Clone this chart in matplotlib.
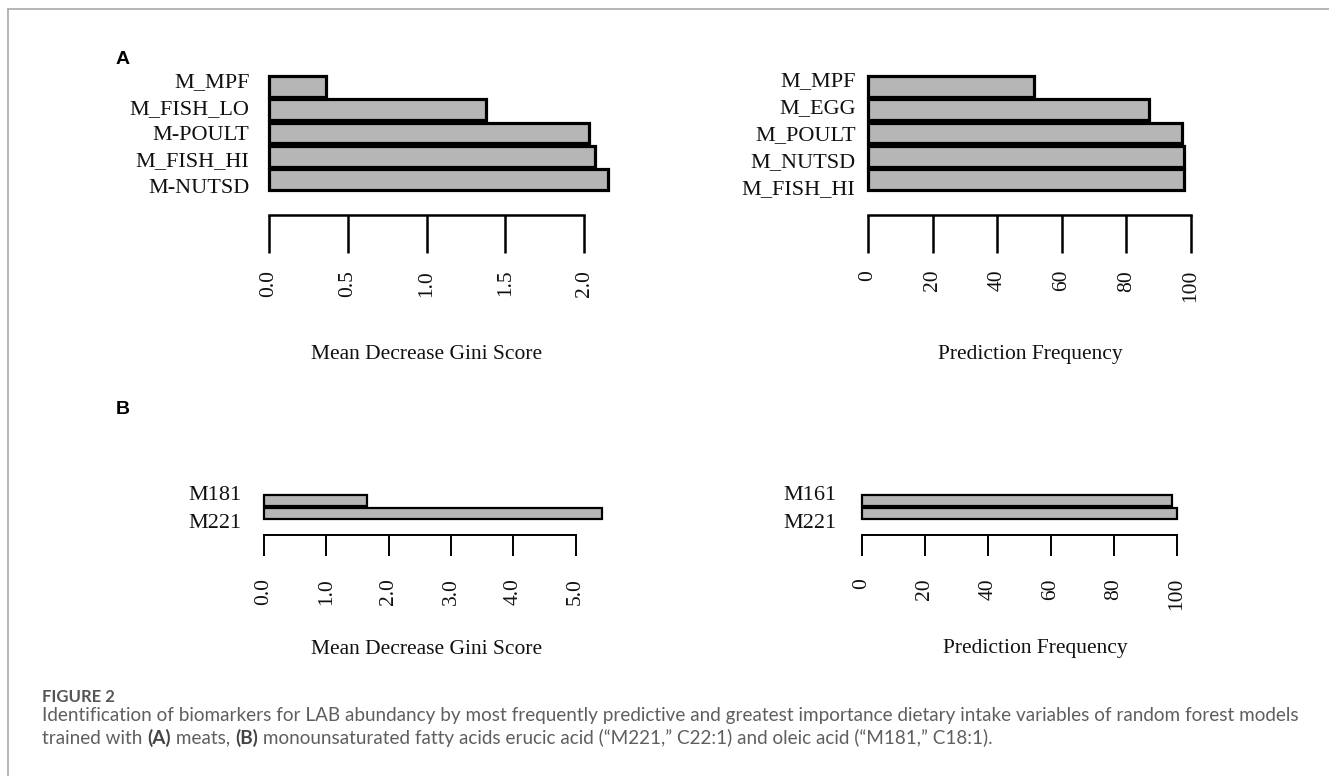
import matplotlib
matplotlib.use("Agg")
import matplotlib.pyplot as plt
from matplotlib.lines import Line2D
from matplotlib.transforms import ScaledTranslation

# ---------------- data ----------------
a_gini_labels = ["M_MPF", "M_FISH_LO", "M-POULT", "M_FISH_HI", "M-NUTSD"]
a_gini_values = [0.36, 1.38, 2.03, 2.07, 2.15]
a_gini_ticks = [0.0, 0.5, 1.0, 1.5, 2.0]
a_gini_ticklabels = ["0.0", "0.5", "1.0", "1.5", "2.0"]

a_freq_labels = ["M_MPF", "M_EGG", "M_POULT", "M_NUTSD", "M_FISH_HI"]
a_freq_values = [51.5, 87.0, 97.2, 97.9, 97.9]
freq_ticks = [0, 20, 40, 60, 80, 100]
freq_ticklabels = ["0", "20", "40", "60", "80", "100"]

b_gini_labels = ["M181", "M221"]
b_gini_values = [1.65, 5.43]
b_gini_ticks = [0, 1, 2, 3, 4, 5]
b_gini_ticklabels = ["0.0", "1.0", "2.0", "3.0", "4.0", "5.0"]

b_freq_labels = ["M161", "M221"]
b_freq_values = [98.6, 100.0]

xlabel_gini = "Mean Decrease Gini Score"
xlabel_freq = "Prediction Frequency"

# ---------------- layout ----------------
W, H, DPI = 1329, 776, 100
fig = plt.figure(figsize=(W / DPI, H / DPI), dpi=DPI)
fig.patch.set_facecolor("white")

SERIF = ["Liberation Serif", "DejaVu Serif"]
BAR_FILL = "#b6b6b6"


def ax_px(x0, x1, y0, y1):
    return fig.add_axes([x0 / W, 1 - y1 / H, (x1 - x0) / W, (y1 - y0) / H])


def panel(rect, labels, values, xlim, ticks, ticklabels, lw, spine_off,
          tick_len, tick_pad, ylab_pad, tick_w, fs_y, fs_x, label_pitch_px):
    ax = ax_px(*rect)
    n = len(labels)
    ypos = list(range(n))[::-1]
    ax.barh(ypos, values, height=0.9, color=BAR_FILL, edgecolor="black",
            linewidth=lw, clip_on=False)
    ax.set_xlim(*xlim)
    ax.set_ylim(-0.5, n - 0.5)
    ax.set_facecolor("none")
    for s in ("top", "right", "left"):
        ax.spines[s].set_visible(False)
    ax.spines["bottom"].set_position(("outward", spine_off))
    ax.spines["bottom"].set_bounds(ticks[0], ticks[-1])
    ax.spines["bottom"].set_linewidth(tick_w)
    ax.set_xticks(ticks)
    ax.set_xticklabels(ticklabels, rotation=90, family=SERIF, fontsize=fs_x,
                       color="#111111")
    ax.tick_params(axis="x", direction="out", length=tick_len, width=tick_w,
                   pad=tick_pad)
    ax.set_yticks(ypos)
    ax.set_yticklabels(labels, family=SERIF, fontsize=fs_y, color="#111111")
    ax.tick_params(axis="y", length=0, pad=ylab_pad)
    # the row labels are spread a little wider than the bars (as in reference)
    bar_pitch_px = (rect[3] - rect[2]) / n
    c = (n - 1) / 2.0
    for yp, lab in zip(ypos, ax.get_yticklabels()):
        dy = (yp - c) * (label_pitch_px - bar_pitch_px)
        lab.set_transform(lab.get_transform() +
                          ScaledTranslation(0, dy / DPI, fig.dpi_scale_trans))
    return ax


# Panel A
axA1 = panel((269, 615.5, 75, 191), a_gini_labels, a_gini_values, (0, 2.2),
             a_gini_ticks, a_gini_ticklabels, lw=2.3, spine_off=17.3,
             tick_len=27.4, tick_pad=12, ylab_pad=14, tick_w=1.8,
             fs_y=16, fs_x=15.5, label_pitch_px=26.4)
axA2 = panel((868, 1197.5, 75, 191), a_freq_labels, a_freq_values, (0, 102),
             freq_ticks, freq_ticklabels, lw=2.3, spine_off=17.3,
             tick_len=27.4, tick_pad=12, ylab_pad=9, tick_w=1.8,
             fs_y=16, fs_x=15.5, label_pitch_px=26.9)
# Panel B
axB1 = panel((264, 613, 494, 520), b_gini_labels, b_gini_values, (0, 5.6),
             b_gini_ticks, b_gini_ticklabels, lw=1.6, spine_off=10.8,
             tick_len=15, tick_pad=16, ylab_pad=16, tick_w=1.4,
             fs_y=16, fs_x=15.5, label_pitch_px=27)
axB2 = panel((862, 1183, 494, 520), b_freq_labels, b_freq_values, (0, 102),
             freq_ticks, freq_ticklabels, lw=1.6, spine_off=10.8,
             tick_len=15, tick_pad=16, ylab_pad=18, tick_w=1.4,
             fs_y=16, fs_x=15.5, label_pitch_px=27)


def fig_text_px(x, y, s, **kw):
    return fig.text(x / W, 1 - y / H, s, **kw)


# axis titles
for (x, y, s) in [(427, 355, xlabel_gini), (1030, 355, xlabel_freq),
                  (427, 649, xlabel_gini), (1035, 649, xlabel_freq)]:
    fig_text_px(x, y, s, ha="center", va="center", family=SERIF,
                fontsize=15.5, color="#111111")

# panel letters
fig_text_px(116, 59, "A", ha="left", va="center", family=["Liberation Sans"],
            fontsize=14, fontweight="bold", color="black")
fig_text_px(116, 409, "B", ha="left", va="center", family=["Liberation Sans"],
            fontsize=14, fontweight="bold", color="black")

# frame lines (open at right/bottom)
fig.add_artist(Line2D([8 / W, 1.0], [1 - 9 / H, 1 - 9 / H],
                      transform=fig.transFigure, color="#b0b0b0", lw=1.3))
fig.add_artist(Line2D([8 / W, 8 / W], [1 - 9 / H, 0.0],
                      transform=fig.transFigure, color="#b0b0b0", lw=1.3))

# caption
CAP_FONT = ["Lato", "DejaVu Sans"]
CAP_COLOR = "#5f5f5f"
renderer = fig.canvas.get_renderer()

line1 = ("Identification of biomarkers for LAB abundancy by most frequently "
         "predictive and greatest importance dietary intake variables of "
         "random forest models")
probe = fig_text_px(42, 715, line1, ha="left", va="center", family=CAP_FONT,
                    fontsize=11, color=CAP_COLOR)
w = probe.get_window_extent(renderer).width
cap_fs = 11 * 1252.0 / w
probe.set_fontsize(cap_fs)

fig_text_px(42, 697, "FIGURE 2", ha="left", va="center", family=CAP_FONT,
            fontsize=cap_fs * 0.88, fontweight="bold", color="#555555")

pieces = [("trained with ", "normal"), ("(A)", "bold"), (" meats, ", "normal"),
          ("(B)", "bold"),
          (" monounsaturated fatty acids erucic acid (\u201cM221,\u201d C22:1) "
           "and oleic acid (\u201cM181,\u201d C18:1).", "normal")]
x = 42.0
for s, wt in pieces:
    t = fig_text_px(x, 738, s, ha="left", va="center", family=CAP_FONT,
                    fontsize=cap_fs, fontweight=wt,
                    color=CAP_COLOR if wt == "normal" else "#444444")
    bb = t.get_window_extent(renderer)
    x += bb.width

fig.savefig("out.png", dpi=DPI, facecolor="white")
